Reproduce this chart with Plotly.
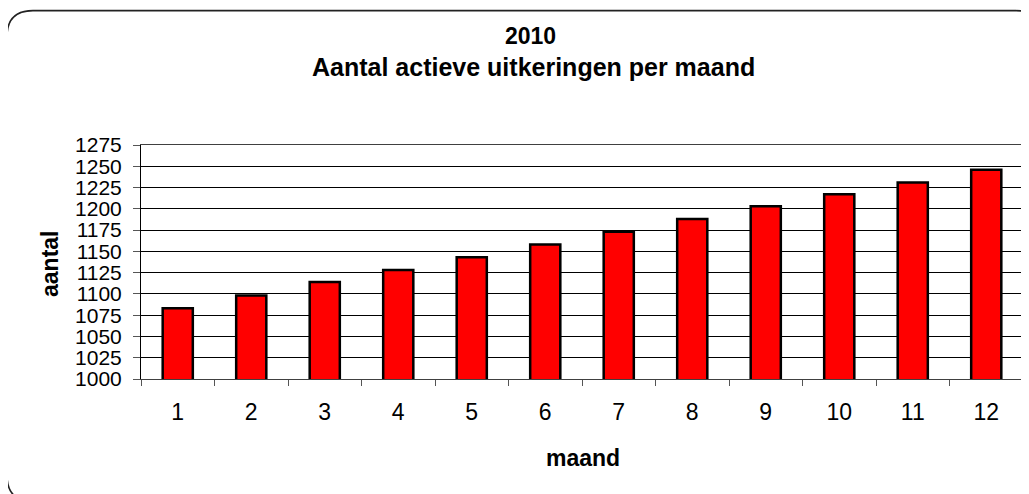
import plotly.graph_objects as go

months = ["1", "2", "3", "4", "5", "6", "7", "8", "9", "10", "11", "12"]
aantal = [1083, 1098, 1114, 1128, 1143, 1158, 1173, 1188, 1203, 1217, 1231, 1246]
y_ticks = list(range(1000, 1276, 25))

# page offset (body margin) compensation: figure px = page px - 8
OFF = 8
W, H = 1029 - OFF, 494 - OFF
L, R, T, B = 141 - OFF, 1023 - OFF, 144.7 - OFF, 379.3 - OFF
pw, ph = R - L, B - T


def px(x):
    return (x - OFF - L) / pw


def py(y):
    return (B - (y - OFF)) / ph


FONT = "Liberation Sans, Arial, sans-serif"

fig = go.Figure(go.Bar(
    x=months, y=aantal,
    marker=dict(color="#FF0000", line=dict(color="#000000", width=2.5)),
    width=0.41,
))

# rounded outer border (page pixel geometry)
x0, y0, x1, y1, r = 7, 10, 1042, 502, 26
pts = [
    f"M {px(x0 + r)},{py(y0)}",
    f"L {px(x1 - r)},{py(y0)}",
    f"Q {px(x1)},{py(y0)} {px(x1)},{py(y0 + r)}",
    f"L {px(x1)},{py(y1 - r)}",
    f"Q {px(x1)},{py(y1)} {px(x1 - r)},{py(y1)}",
    f"L {px(x0 + r)},{py(y1)}",
    f"Q {px(x0)},{py(y1)} {px(x0)},{py(y1 - r)}",
    f"L {px(x0)},{py(y0 + r)}",
    f"Q {px(x0)},{py(y0)} {px(x0 + r)},{py(y0)}",
    "Z",
]
fig.add_shape(type="path", path=" ".join(pts), xref="paper", yref="paper",
              line=dict(color="#222222", width=1.6), layer="above")

fig.add_annotation(text="<b>2010</b>", x=px(530), y=py(35), xref="paper", yref="paper",
                   showarrow=False, font=dict(family=FONT, size=23, color="black"),
                   xanchor="center", yanchor="middle")
fig.add_annotation(text="<b>Aantal actieve uitkeringen per maand</b>", x=px(533), y=py(66),
                   xref="paper", yref="paper", showarrow=False,
                   font=dict(family=FONT, size=25, color="black"),
                   xanchor="center", yanchor="middle")
fig.add_annotation(text="<b>aantal</b>", x=px(50), y=py(264), xref="paper", yref="paper",
                   showarrow=False, textangle=-90,
                   font=dict(family=FONT, size=23, color="black"),
                   xanchor="center", yanchor="middle")
fig.add_annotation(text="<b>maand</b>", x=px(583), y=py(459), xref="paper", yref="paper",
                   showarrow=False, font=dict(family=FONT, size=23, color="black"),
                   xanchor="center", yanchor="middle")

fig.update_layout(
    width=W, height=H,
    margin=dict(l=L, r=W - R, t=T, b=H - B, pad=0),
    paper_bgcolor="white", plot_bgcolor="white",
    showlegend=False,
    font=dict(family=FONT, color="black"),
    xaxis=dict(
        type="category", tickson="boundaries", ticks="outside", ticklen=6,
        tickcolor="#555555", tickwidth=1, ticklabelstandoff=12,
        showline=True, linecolor="#404040", linewidth=1, mirror=True,
        showgrid=False, tickfont=dict(size=23, family=FONT, color="black"),
        range=[-0.5, 11.5],
    ),
    yaxis=dict(
        range=[1000, 1275], tickvals=y_ticks, ticks="outside", ticklen=7,
        tickcolor="#555555", tickwidth=1, ticklabelstandoff=7,
        showline=True, linecolor="#000000", linewidth=1, mirror=True,
        showgrid=True, gridcolor="#000000", gridwidth=1,
        tickfont=dict(size=21, family=FONT, color="black"),
        zeroline=False,
    ),
)

fig.write_html("out.html")
